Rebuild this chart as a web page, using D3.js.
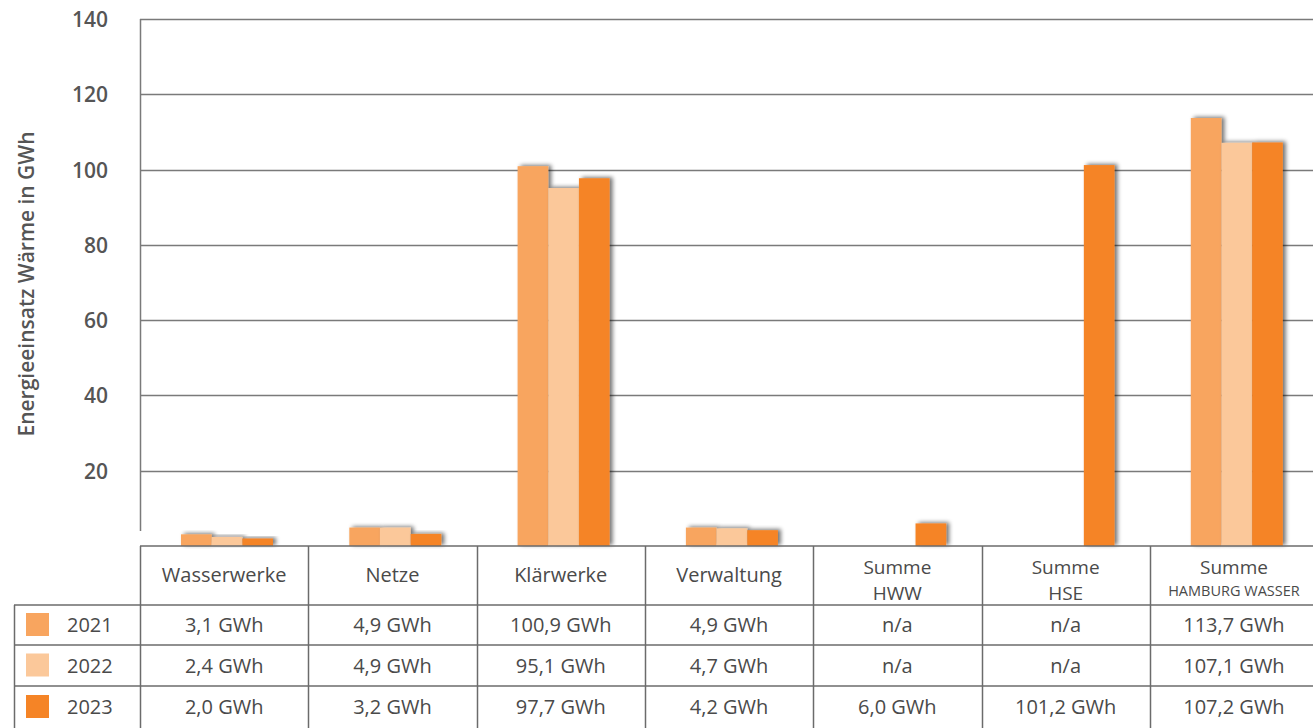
<!DOCTYPE html>
<html lang="de">
<head>
<meta charset="utf-8">
<title>Energieeinsatz Wärme</title>
<script src="https://cdn.jsdelivr.net/npm/d3@7"></script>
<style>
  html, body { margin: 0; padding: 0; background: #fff; }
  svg { display: block; font-family: "Open Sans", "Noto Sans", sans-serif; }
</style>
</head>
<body>
<svg id="chart" width="1313" height="728"></svg>
<script>
// Heat energy use per business unit, GWh
const categories = ["Wasserwerke", "Netze", "Klärwerke", "Verwaltung", "Summe HWW", "Summe HSE", "Summe HAMBURG WASSER"];
const headerLine1 = ["Wasserwerke", "Netze", "Klärwerke", "Verwaltung", "Summe", "Summe", "Summe"];
const headerLine2 = ["", "", "", "", "HWW", "HSE", "HAMBURG WASSER"];
const years = ["2021", "2022", "2023"];
const values2021 = [3.1, 4.9, 100.9, 4.9, null, null, 113.7];
const values2022 = [2.4, 4.9, 95.1, 4.7, null, null, 107.1];
const values2023 = [2.0, 3.2, 97.7, 4.2, 6.0, 101.2, 107.2];
const yTicks = [20, 40, 60, 80, 100, 120, 140];
const colors = ["#F8A55F", "#FBC89A", "#F58426"];

const series = [values2021, values2022, values2023];
const fmt = v => v == null ? "n/a" : d3.format(".1f")(v).replace(".", ",") + " GWh";

const svg = d3.select("#chart");
const W = 1313;
const left = 140, colW = 168.3;
const y0 = 546, yTop = 19;

const x = d3.scaleBand().domain(categories).range([left, left + colW * categories.length]).padding(0);
const x1 = d3.scaleBand().domain(years).range([41, 133]).padding(0);
const y = d3.scaleLinear().domain([0, 140]).range([y0, yTop]);

// soft drop shadow behind each bar
const defs = svg.append("defs");
const f = defs.append("filter").attr("id", "shadow").attr("x", "-30%").attr("y", "-30%").attr("width", "160%").attr("height", "160%");
f.append("feGaussianBlur").attr("in", "SourceAlpha").attr("stdDeviation", 2.2).attr("result", "b");
f.append("feOffset").attr("in", "b").attr("dx", 3).attr("dy", -1).attr("result", "o");
f.append("feComponentTransfer").attr("in", "o").attr("result", "s")
  .append("feFuncA").attr("type", "linear").attr("slope", 0.55);
const m = f.append("feMerge");
m.append("feMergeNode").attr("in", "s");
m.append("feMergeNode").attr("in", "SourceGraphic");

// gridlines
svg.append("g").selectAll("line").data(yTicks).join("line")
  .attr("x1", left).attr("x2", W)
  .attr("y1", d => Math.round(y(d)) + 0.5).attr("y2", d => Math.round(y(d)) + 0.5)
  .attr("stroke", "#7a7a7a").attr("stroke-width", 1.3);

// y axis line
svg.append("line").attr("x1", left + 0.5).attr("x2", left + 0.5).attr("y1", yTop).attr("y2", 531)
  .attr("stroke", "#7a7a7a").attr("stroke-width", 1.5);

// tick labels
const yAxis = d3.axisLeft(y).tickValues(yTicks).tickSize(0).tickPadding(0);
const gy = svg.append("g").attr("transform", `translate(108,0)`).call(yAxis);
gy.select(".domain").remove();
gy.selectAll("text").attr("font-size", 21).attr("font-weight", 600).attr("fill", "#555")
  .attr("font-family", "'Open Sans', sans-serif").attr("dy", "0.36em");

// axis title
svg.append("text")
  .attr("transform", "translate(34,284) rotate(-90)")
  .attr("text-anchor", "middle")
  .attr("font-size", 21).attr("font-weight", 600).attr("fill", "#555")
  .text("Energieeinsatz Wärme in GWh");

// bars
const groups = svg.append("g").selectAll("g").data(categories).join("g")
  .attr("transform", d => `translate(${x(d)},0)`);
groups.selectAll("rect")
  .data((c, i) => years.map((yr, s) => ({ yr, s, v: series[s][i] })).filter(d => d.v != null))
  .join("rect")
  .attr("x", d => x1(d.yr))
  .attr("width", x1.bandwidth())
  .attr("y", d => y(d.v))
  .attr("height", d => y0 - y(d.v))
  .attr("fill", d => colors[d.s])
  .attr("filter", "url(#shadow)");

// data table
const rowY = [546, 605, 645, 686, 728];
const tbl = svg.append("g").attr("stroke", "#6b6b6b").attr("stroke-width", 1.5);
rowY.slice(0, 4).forEach((ry, i) => {
  tbl.append("line").attr("x1", i === 0 ? left : 14).attr("x2", W).attr("y1", ry).attr("y2", ry);
});
const colEdges = categories.map(c => x(c)).concat([x(categories[categories.length - 1]) + x.bandwidth()]);
colEdges.forEach(cx => {
  if (cx < W) tbl.append("line").attr("x1", Math.round(cx) + 0.5).attr("x2", Math.round(cx) + 0.5).attr("y1", 546).attr("y2", 728);
});
tbl.append("line").attr("x1", 14.5).attr("x2", 14.5).attr("y1", 605).attr("y2", 728);

// header labels (two-line headers as one text with tspans)
const hdr = svg.append("g").attr("fill", "#4a4a4a").attr("text-anchor", "middle");
categories.forEach((c, i) => {
  const cx = x(c) + x.bandwidth() / 2;
  if (!headerLine2[i]) {
    hdr.append("text").attr("x", cx).attr("y", 582).attr("font-size", 20).text(headerLine1[i]);
  } else {
    const small = headerLine2[i].length > 5;
    const t = hdr.append("text").attr("x", cx).attr("y", 574).attr("font-size", 19);
    t.append("tspan").attr("x", cx).text(headerLine1[i]);
    t.append("tspan").attr("x", cx).attr("dy", small ? 22 : 26)
      .attr("font-size", small ? 14.5 : 19).text(headerLine2[i]);
  }
});

// value rows and legend
const rowsG = svg.append("g").attr("fill", "#4a4a4a");
years.forEach((yr, s) => {
  const cy = (rowY[s + 1] + rowY[s + 2]) / 2;
  rowsG.append("rect").attr("x", 26).attr("y", cy - 12).attr("width", 23).attr("height", 23).attr("fill", colors[s]);
  rowsG.append("text").attr("x", 67).attr("y", cy + 7).attr("font-size", 20).text(yr);
  categories.forEach((c, i) => {
    rowsG.append("text").attr("x", x(c) + x.bandwidth() / 2).attr("y", cy + 7)
      .attr("text-anchor", "middle").attr("font-size", 20).text(fmt(series[s][i]));
  });
});
</script>
</body>
</html>
